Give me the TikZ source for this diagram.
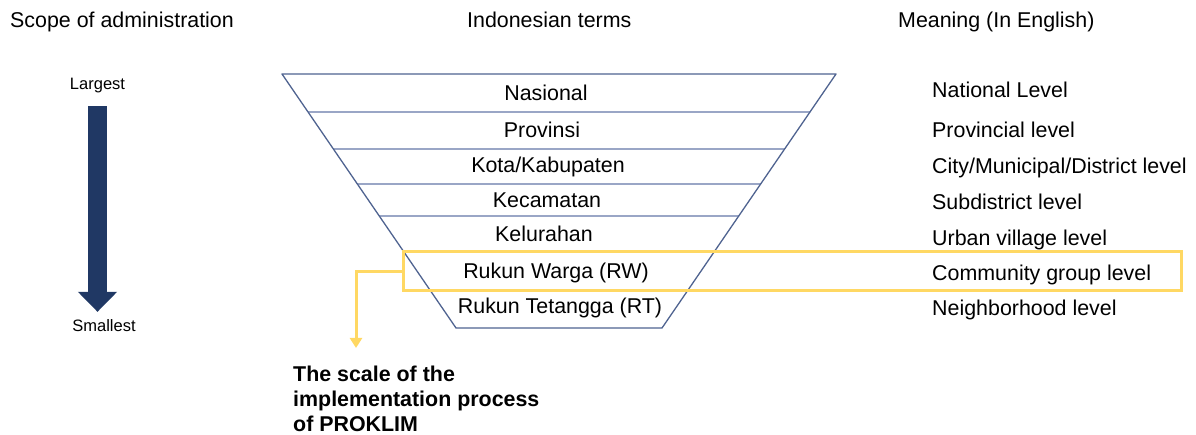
\documentclass[tikz,border=0pt]{standalone}
\usepackage{fontspec}
\setmainfont{Liberation Sans}
\usetikzlibrary{arrows.meta}
\definecolor{navyarrow}{HTML}{203864}
\definecolor{funnel}{HTML}{4F6390}
\definecolor{divline}{HTML}{9AA6C6}
\definecolor{hlyellow}{HTML}{FFD863}
\tikzset{
  lbl/.style={anchor=base west, inner sep=0pt, font=\fontsize{21.4}{25}\selectfont},
  term/.style={anchor=base, inner sep=0pt, font=\fontsize{21.4}{25}\selectfont},
  tiny/.style={anchor=base, inner sep=0pt, font=\fontsize{16.5}{20}\selectfont},
  hlbox/.style={draw=hlyellow, line width=3pt, inner sep=0pt},
}
\begin{document}
\begin{tikzpicture}[x=1pt,y=-1pt]
  \useasboundingbox (0,0) rectangle (1196,435);
  % headings
  \node[lbl] (hscope) at (10,28) {Scope of administration};
  \node[lbl] (hterms) at (467,28) {Indonesian terms};
  \node[lbl] (hmean) at (898,28) {Meaning (In English)};
  % scope arrow
  \node[tiny] (largest) at (97.5,90) {Largest};
  \node[tiny] (smallest) at (104,331) {Smallest};
  \draw[navyarrow, line width=19pt, -{Triangle[width=38pt,length=20pt]},
    shorten <=12.5pt, shorten >=7pt] (largest.south) -- (largest.south |- smallest.north);
  % funnel
  \foreach \y in {112,149,184,216,251,291}
    \draw[divline, line width=1.3pt] ({282+0.685*(\y-74)},\y) -- ({836-0.685*(\y-74)},\y);
  \draw[funnel, line width=1.3pt, line join=round] (282,74) -- (836,74) -- (662,328) -- (456,328) -- cycle;
  \node[term] (nas) at (546,101) {Nasional};
  \node[term] (prov) at (542,138) {Provinsi};
  \node[term] (kota) at (548,173) {Kota/Kabupaten};
  \node[term] (kec) at (547,208) {Kecamatan};
  \node[term] (kel) at (544,242) {Kelurahan};
  \node[term] (rw) at (556,279) {Rukun Warga (RW)};
  \node[term] (rt) at (560,314) {Rukun Tetangga (RT)};
  % meanings
  \node[lbl] (mnat) at (932,98) {National Level};
  \node[lbl] (mprov) at (932,138) {Provincial level};
  \node[lbl] (mcity) at (932,174) {City/Municipal/District level};
  \node[lbl] (msub) at (932,210) {Subdistrict level};
  \node[lbl] (murb) at (932,246) {Urban village level};
  \node[lbl] (mcom) at (932,281) {Community group level};
  \node[lbl] (mnbh) at (932,316) {Neighborhood level};
  % highlight
  \node[hlbox, minimum width=778pt, minimum height=39pt] (hl) at (792,271.5) {};
  \node[anchor=north west, inner sep=0pt, align=left,
    font=\fontsize{21.4}{25}\bfseries\selectfont] (scale) at (293,366)
    {The scale of the\\implementation process\\of PROKLIM};
  \coordinate (tip) at (356,348);
  \draw[hlyellow, line width=3pt, -{Triangle[width=12pt,length=10pt]}] (hl.west) -| (tip);
\end{tikzpicture}
\end{document}
